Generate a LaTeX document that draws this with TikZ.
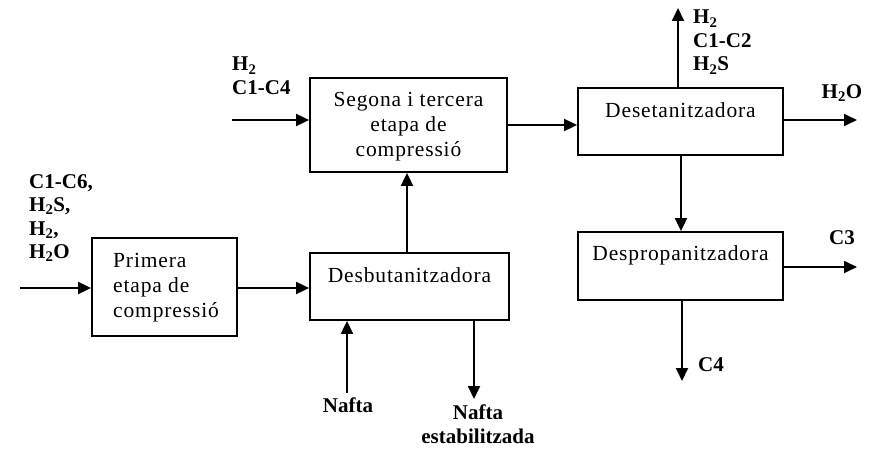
\documentclass[tikz,border=0pt]{standalone}
\usepackage{fontspec}
\setmainfont{Liberation Serif}
\usetikzlibrary{arrows.meta}
\begin{document}
\begin{tikzpicture}[x=1pt,y=-1pt,
  box/.style={draw,line width=1.8pt,minimum width=#1,inner sep=0pt},
  boxtxt/.style={font=\fontsize{21.5}{25}\selectfont\addfontfeature{LetterSpace=4},inner sep=0pt},
  lbl/.style={font=\fontsize{21}{23.5}\selectfont\bfseries,inner sep=0pt},
  flow/.style={line width=1.8pt,-{Triangle[length=13pt,width=12pt]}}]
\useasboundingbox (0,0) rectangle (873,452);
% boxes
\node[box=145pt,minimum height=98pt] (prim) at (164.5,287) {};
\node[box=199pt,minimum height=67pt] (desb) at (409.5,286.5) {};
\node[box=197pt,minimum height=94pt] (seg) at (408.5,125) {};
\node[box=205pt,minimum height=67pt] (dese) at (680.5,121.5) {};
\node[box=205pt,minimum height=68pt] (desp) at (680.5,266) {};
% box texts
\node[boxtxt,align=left,anchor=west] (primt) at (113,288) {Primera\\etapa de\\compressió};
\node[boxtxt,align=center] (segt) at (408.5,127) {Segona i tercera\\etapa de\\compressió};
\node[boxtxt] (desbt) at (409.5,275) {Desbutanitzadora};
\node[boxtxt] (deset) at (680.5,110) {Desetanitzadora};
\node[boxtxt] (despt) at (680.5,255) {Despropanitzadora};
% labels
\node[lbl,align=left,anchor=north west] (feed) at (29,174) {C1-C6,\\H\textsubscript{2}S,\\H\textsubscript{2},\\H\textsubscript{2}O};
\node[lbl,align=left,anchor=north west] (h2c14) at (232,57) {H\textsubscript{2}\\C1-C4};
\node[lbl,align=left,anchor=north west] (gas) at (693,10) {H\textsubscript{2}\\C1-C2\\H\textsubscript{2}S};
\node[lbl] (h2o) at (842,93) {H\textsubscript{2}O};
\node[lbl] (c3) at (842,238) {C3};
\node[lbl,anchor=west] (c4) at (698,365) {C4};
\node[lbl] (naf) at (348,405) {Nafta};
\node[lbl,align=center,anchor=north] (nafe) at (478,405) {Nafta\\estabilitzada};
% free ends
\coordinate (in1) at (20,288);
\coordinate (in2) at (232,120);
\coordinate (outgas) at (678,8);
\coordinate (outh2o) at (857,120);
\coordinate (outc3) at (857,267);
\coordinate (outc4) at (682,381);
\coordinate (outnaf) at (474,399);
\coordinate (innaf) at (347,393);
% connectors
\draw[flow] (in1) -- (in1 -| prim.west);
\draw[flow] (prim.east |- 0,288) -- (desb.west |- 0,288);
\draw[flow] (innaf) -- (innaf |- desb.south);
\draw[flow] (outnaf |- desb.south) -- (outnaf);
\draw[flow] (desb.north -| 407,0) -- (seg.south -| 407,0);
\draw[flow] (in2) -- (in2 -| seg.west);
\draw[flow] (seg.east |- 0,125) -- (dese.west |- 0,125);
\draw[flow] (outgas |- dese.north) -- (outgas);
\draw[flow] (dese.east |- outh2o) -- (outh2o);
\draw[flow] (dese.south -| 681,0) -- (desp.north -| 681,0);
\draw[flow] (desp.east |- outc3) -- (outc3);
\draw[flow] (outc4 |- desp.south) -- (outc4);
\end{tikzpicture}
\end{document}
